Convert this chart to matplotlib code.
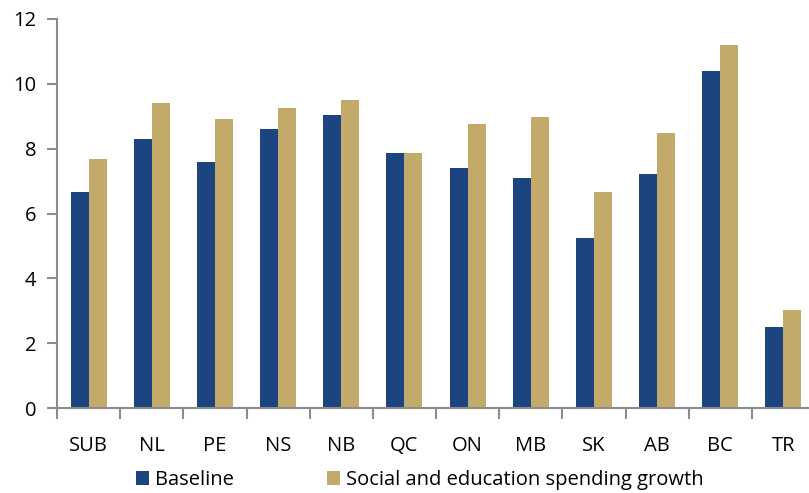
import numpy as np
import matplotlib.pyplot as plt

plt.rcParams['font.family'] = ['Open Sans', 'DejaVu Sans']

regioes = ["SUB", "NL", "PE", "NS", "NB", "QC", "ON", "MB", "SK", "AB", "BC", "TR"]
baseline = [6.67, 8.30, 7.59, 8.61, 9.05, 7.87, 7.41, 7.10, 5.25, 7.22, 10.40, 2.50]
social = [7.69, 9.41, 8.92, 9.26, 9.51, 7.87, 8.77, 8.99, 6.67, 8.49, 11.20, 3.02]

azul = "#1c4480"
bege = "#c4aa6a"
cinza = "#8c8c8c"

fig = plt.figure(figsize=(8.09, 4.93), dpi=100)
# eixo passa um pouco da borda direita, como no original
ax = fig.add_axes([57 / 809, 85 / 493, 758 / 809, 389 / 493])

x = np.arange(len(regioes))
largura = 0.285
ax.bar(x - largura / 2, baseline, largura, color=azul, label="Baseline")
ax.bar(x + largura / 2, social, largura, color=bege, label="Social and education spending growth")

ax.set_xlim(-0.5, len(regioes) - 0.5)
ax.set_ylim(0, 12)
ax.set_yticks(np.arange(0, 13, 2))

ax.set_xticks(np.arange(-0.5, len(regioes), 1))
ax.set_xticklabels([])
ax.set_xticks(x, minor=True)
ax.set_xticklabels(regioes, minor=True)
ax.tick_params(axis='x', which='major', length=8, width=1.5, color=cinza, direction='out')
ax.tick_params(axis='x', which='minor', length=0, pad=20, labelsize=14.5)
ax.tick_params(axis='y', length=7, width=1.5, color=cinza, labelsize=14.5, pad=8)

for lado in ["top", "right"]:
    ax.spines[lado].set_visible(False)
for lado in ["left", "bottom"]:
    ax.spines[lado].set_color(cinza)
    ax.spines[lado].set_linewidth(1.5)

fig.legend(loc="center", bbox_to_anchor=(420 / 809, 1 - 480 / 493), ncol=2, frameon=False,
           fontsize=14.5, handlelength=0.65, handleheight=0.65, handletextpad=0.3,
           columnspacing=4.6)

plt.savefig("out.png", dpi=100)
